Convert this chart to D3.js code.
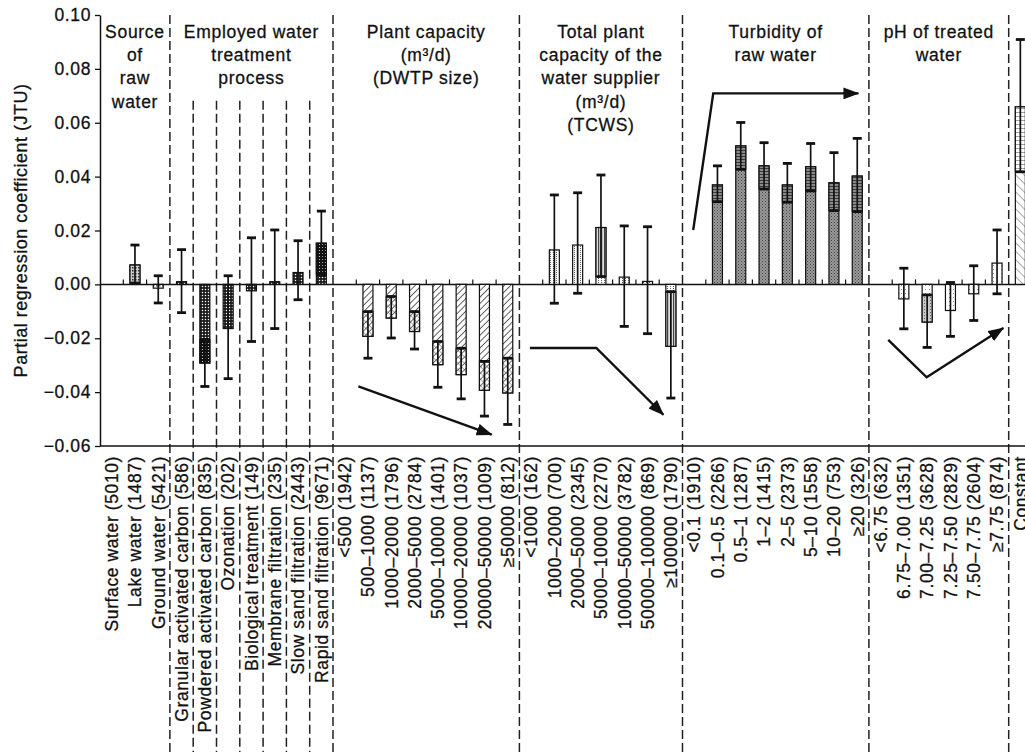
<!DOCTYPE html>
<html><head><meta charset="utf-8">
<script src="https://cdn.jsdelivr.net/npm/d3@7"></script>
<style>
body{margin:0;background:#fff;}
text{font-family:"Liberation Sans",Arial,Helvetica,sans-serif;fill:#111;stroke:#111;stroke-width:0.3px;}
</style></head>
<body>
<script>
// ---------- DATA ----------
const categories = [
  "Surface water (5010)","Lake water (1487)","Ground water (5421)",
  "Granular activated carbon (586)","Powdered activated carbon (835)","Ozonation (202)",
  "Biological treatment (149)","Membrane filtration (235)","Slow sand filtration (2443)","Rapid sand filtration (9671)",
  "<500 (1942)","500–1000 (1137)","1000–2000 (1796)","2000–5000 (2784)","5000–10000 (1401)",
  "10000–20000 (1037)","20000–50000 (1009)","≥50000 (812)",
  "<1000 (162)","1000–2000 (700)","2000–5000 (2345)","5000–10000 (2270)","10000–50000 (3782)",
  "50000–100000 (869)","≥100000 (1790)",
  "<0.1 (1910)","0.1–0.5 (2266)","0.5–1 (1287)","1–2 (1415)","2–5 (2373)","5–10 (1558)","10–20 (753)","≥20 (326)",
  "<6.75 (632)","6.75–7.00 (1351)","7.00–7.25 (3628)","7.25–7.50 (2829)","7.50–7.75 (2604)","≥7.75 (874)",
  "Constant"
];
const sectionTitles = [
  ["Source","of","raw","water"],
  ["Employed water","treatment","process"],
  ["Plant capacity","(m³/d)","(DWTP size)"],
  ["Total plant","capacity of the","water supplier","(m³/d)","(TCWS)"],
  ["Turbidity of","raw water"],
  ["pH of treated","water"],
  []
];
const sectionSizes = [3, 7, 8, 7, 8, 6, 1];
// coefficient (null = reference category)
const coef = [null, 0.0072, -0.0014,
  0.0010, -0.0292, -0.0164, -0.0024, 0.0010, 0.0044, 0.0153,
  null, -0.0193, -0.0125, -0.0175, -0.0298, -0.0335, -0.0393, -0.0403,
  null, 0.0128, 0.0146, 0.0211, 0.0027, 0.0011, -0.0230,
  null, 0.0369, 0.0514, 0.0440, 0.0369, 0.0437, 0.0377, 0.0402,
  null, -0.0054, -0.0140, -0.0097, -0.0035, 0.0079,
  0.0659];
const ciLower = [null, 0.0005, -0.0069,
  -0.0105, -0.0379, -0.0350, -0.0212, -0.0164, -0.0057, 0.0035,
  null, -0.0274, -0.0199, -0.0240, -0.0382, -0.0425, -0.0489, -0.0520,
  null, -0.0070, -0.0033, 0.0029, -0.0156, -0.0183, -0.0422,
  null, 0.0307, 0.0427, 0.0354, 0.0305, 0.0347, 0.0274, 0.0270,
  null, -0.0165, -0.0234, -0.0193, -0.0134, -0.0035,
  0.0418];
const ciUpper = [null, 0.0146, 0.0032,
  0.0129, -0.0205, 0.0032, 0.0173, 0.0202, 0.0162, 0.0272,
  null, -0.0101, -0.0045, -0.0101, -0.0212, -0.0237, -0.0286, -0.0274,
  null, 0.0332, 0.0340, 0.0406, 0.0217, 0.0214, -0.0027,
  null, 0.0440, 0.0601, 0.0526, 0.0449, 0.0523, 0.0489, 0.0542,
  null, 0.0060, -0.0039, 0.0007, 0.0069, 0.0202,
  0.0909];
const yTicks = [0.10, 0.08, 0.06, 0.04, 0.02, 0.00, -0.02, -0.04, -0.06];
// trend arrows: [category position, coefficient] points
const trendArrows = [
  [[11.09, -0.0379], [16.81, -0.0558]],
  [[18.45, -0.0236], [21.3, -0.0236], [24.18, -0.0484]],
  [[25.46, 0.0202], [26.32, 0.0709], [32.55, 0.0709]],
  [[33.83, -0.0206], [35.48, -0.0345], [38.77, -0.0162]]
];

// ---------- LAYOUT ----------
const W = 1025, H = 752;
const mLeft = 100, mTop = 15, mBottom = 446, band = 23.3;
const n = categories.length;
const svg = d3.select("body").append("svg").attr("width", W).attr("height", H);

const xb = d3.scaleBand().domain(d3.range(n)).range([mLeft, mLeft + n * band]).padding(0);
const xi = d3.scaleLinear().domain([0, n]).range([mLeft, mLeft + n * band]);
const y = d3.scaleLinear().domain([-0.06, 0.10]).range([mBottom, mTop]);
const cx = i => xb(i) + xb.bandwidth() / 2;

const secOf = [];
sectionSizes.forEach((s, k) => { for (let j = 0; j < s; j++) secOf.push(k); });
const secStart = [];
sectionSizes.reduce((acc, s) => { secStart.push(acc); return acc + s; }, 0);

// ---------- PATTERNS ----------
const defs = svg.append("defs");
function pattern(id, w, h, bg, rot) {
  const p = defs.append("pattern").attr("id", id).attr("patternUnits", "userSpaceOnUse")
    .attr("width", w).attr("height", h);
  if (rot) p.attr("patternTransform", `rotate(${rot})`);
  p.append("rect").attr("width", w).attr("height", h).attr("fill", bg);
  return p;
}
let p = pattern("p0", 3, 3, "#fff");
p.append("rect").attr("x", 0).attr("y", 0).attr("width", 1.5).attr("height", 1.5).attr("fill", "#555");
p = pattern("p0i", 3, 3, "#ccc");
p.append("rect").attr("width", 1.5).attr("height", 1.5).attr("fill", "#333");
p = pattern("p1", 3, 3, "#1c1c1c");
p.append("circle").attr("cx", 1.5).attr("cy", 1.5).attr("r", 0.75).attr("fill", "#fff");
p = pattern("p1i", 3, 3, "#111");
p.append("circle").attr("cx", 1.5).attr("cy", 1.5).attr("r", 0.6).attr("fill", "#ddd");
p = pattern("p2", 4.5, 4.5, "#fff", 45);
p.append("line").attr("x1", 0).attr("y1", 0).attr("x2", 0).attr("y2", 4.5).attr("stroke", "#222").attr("stroke-width", 1.4);
p = pattern("p2i", 4.5, 4.5, "#fff", 45);
p.append("line").attr("x1", 0).attr("y1", 0).attr("x2", 0).attr("y2", 4.5).attr("stroke", "#222").attr("stroke-width", 1.3);
p.append("line").attr("x1", 0).attr("y1", 0).attr("x2", 4.5).attr("y2", 0).attr("stroke", "#444").attr("stroke-width", 0.9);
p = pattern("p3", 3, 2, "#fff");
p.append("rect").attr("x", 1).attr("y", 0).attr("width", 1).attr("height", 1).attr("fill", "#666");
p = pattern("p3i", 3, 2, "#ddd");
p.append("rect").attr("x", 1).attr("y", 0).attr("width", 1.2).attr("height", 2).attr("fill", "#444");
p = pattern("p4", 3, 3, "#9a9a9a");
p.append("rect").attr("width", 1).attr("height", 1).attr("fill", "#444");
p.append("rect").attr("x", 1.5).attr("y", 1.5).attr("width", 1).attr("height", 1).attr("fill", "#555");
p = pattern("p4i", 3, 3, "#8a8a8a");
p.append("rect").attr("width", 3).attr("height", 1).attr("fill", "#3a3a3a");
p = pattern("p5", 4, 4, "#fff");
p.append("rect").attr("x", 1).attr("y", 1).attr("width", 1).attr("height", 1).attr("fill", "#999");
p = pattern("p5i", 3, 3, "#c8c8c8");
p.append("rect").attr("width", 1).attr("height", 1).attr("fill", "#666");
p = pattern("p6", 6, 6, "#fff", -45);
p.append("line").attr("x1", 0).attr("y1", 0).attr("x2", 0).attr("y2", 6).attr("stroke", "#555").attr("stroke-width", 1);
p = pattern("p6i", 4, 4, "#fff");
p.append("line").attr("x1", 0).attr("y1", 0).attr("x2", 4).attr("y2", 0).attr("stroke", "#444").attr("stroke-width", 1);

defs.append("marker").attr("id", "arr").attr("markerUnits", "userSpaceOnUse")
  .attr("viewBox", "0 0 16 12").attr("refX", 15).attr("refY", 6)
  .attr("markerWidth", 16).attr("markerHeight", 12).attr("orient", "auto")
  .append("path").attr("d", "M0,0 L16,6 L0,12 Z").attr("fill", "#111");

// ---------- DASHED DIVIDERS ----------
const dividers = secStart.slice(1);
svg.append("g").selectAll("line").data(dividers).join("line")
  .attr("x1", d => xi(d)).attr("x2", d => xi(d))
  .attr("y1", mTop).attr("y2", H)
  .attr("stroke", "#222").attr("stroke-width", 1.5).attr("stroke-dasharray", "9,4");
const subDiv = d3.range(secStart[1] + 1, secStart[2]);
svg.append("g").selectAll("line").data(subDiv).join("line")
  .attr("x1", d => xi(d)).attr("x2", d => xi(d))
  .attr("y1", y(0.0682)).attr("y2", H)
  .attr("stroke", "#222").attr("stroke-width", 1.5).attr("stroke-dasharray", "9,4");

// ---------- AXES ----------
const yAxis = d3.axisLeft(y).tickValues(yTicks).tickFormat(d3.format(".2f")).tickSize(5).tickSizeOuter(0).tickPadding(4);
const gy = svg.append("g").attr("transform", `translate(${mLeft},0)`).call(yAxis);
gy.select(".domain").attr("stroke", "#111").attr("stroke-width", 1.5);
gy.selectAll(".tick line").attr("stroke", "#111").attr("stroke-width", 1.3);
gy.selectAll(".tick text").attr("font-size", 17.5).attr("letter-spacing", 0.6)
  .style("font-family", '"Liberation Sans",Arial,sans-serif').attr("fill", "#111");

svg.append("line").attr("x1", mLeft).attr("x2", W).attr("y1", y(-0.06)).attr("y2", y(-0.06))
  .attr("stroke", "#111").attr("stroke-width", 1.5);
svg.append("line").attr("x1", mLeft).attr("x2", W).attr("y1", y(0)).attr("y2", y(0))
  .attr("stroke", "#111").attr("stroke-width", 1.5);
const boundaries = d3.range(1, n).filter(b => !dividers.includes(b) && !subDiv.includes(b));
svg.append("g").selectAll("line").data(boundaries).join("line")
  .attr("x1", d => xi(d)).attr("x2", d => xi(d))
  .attr("y1", y(0)).attr("y2", y(0) - 5)
  .attr("stroke", "#111").attr("stroke-width", 1.2);

svg.append("text").attr("transform", `translate(27,${(mTop + mBottom) / 2})rotate(-90)`)
  .attr("text-anchor", "middle").attr("font-size", 18).attr("letter-spacing", 0.5)
  .text("Partial regression coefficient (JTU)");

// ---------- BARS ----------
const barW = 10;
const idx = d3.range(n).filter(i => coef[i] !== null);
const gb = svg.append("g");
gb.selectAll("rect.bar").data(idx).join("rect").attr("class", "bar")
  .attr("x", i => cx(i) - barW / 2).attr("width", barW)
  .attr("y", i => y(Math.max(0, coef[i])))
  .attr("height", i => Math.abs(y(coef[i]) - y(0)))
  .attr("fill", i => `url(#p${secOf[i]})`)
  .attr("stroke", "#111").attr("stroke-width", 1.2);
const innerIdx = idx.filter(i => coef[i] > 0 ? (ciLower[i] > 0 && ciLower[i] < coef[i]) : (ciUpper[i] < 0 && ciUpper[i] > coef[i]));
gb.selectAll("rect.inner").data(innerIdx).join("rect").attr("class", "inner")
  .attr("x", i => cx(i) - barW / 2).attr("width", barW)
  .attr("y", i => coef[i] > 0 ? y(coef[i]) : y(ciUpper[i]))
  .attr("height", i => coef[i] > 0 ? y(ciLower[i]) - y(coef[i]) : y(coef[i]) - y(ciUpper[i]))
  .attr("fill", i => `url(#p${secOf[i]}i)`)
  .attr("stroke", "#111").attr("stroke-width", 1.2);

const ge = svg.append("g").attr("stroke", "#111");
ge.selectAll("line.v").data(idx).join("line").attr("class", "v")
  .attr("x1", i => cx(i)).attr("x2", i => cx(i))
  .attr("y1", i => y(ciLower[i])).attr("y2", i => y(ciUpper[i]))
  .attr("stroke-width", 1.7);
["lo", "hi"].forEach(k => {
  ge.selectAll("line." + k).data(idx).join("line").attr("class", k)
    .attr("x1", i => cx(i) - 4.5).attr("x2", i => cx(i) + 4.5)
    .attr("y1", i => y(k === "lo" ? ciLower[i] : ciUpper[i]))
    .attr("y2", i => y(k === "lo" ? ciLower[i] : ciUpper[i]))
    .attr("stroke-width", 2.8);
});

// ---------- TREND ARROWS ----------
const line = d3.line().x(d => xi(d[0])).y(d => y(d[1]));
svg.append("g").selectAll("path").data(trendArrows).join("path")
  .attr("d", line).attr("fill", "none").attr("stroke", "#111").attr("stroke-width", 2.4)
  .attr("marker-end", "url(#arr)");

// ---------- SECTION TITLES ----------
const gt = svg.append("g");
sectionTitles.forEach((lines, k) => {
  const c = xi(secStart[k] + sectionSizes[k] / 2);
  lines.forEach((t, j) => {
    gt.append("text").attr("x", c).attr("y", 38 + j * 23.2)
      .attr("text-anchor", "middle").attr("font-size", 17.5).attr("letter-spacing", 0.7)
      .text(t);
  });
});

// ---------- CATEGORY LABELS ----------
svg.append("g").selectAll("text").data(d3.range(n)).join("text")
  .attr("transform", i => `translate(${cx(i)},456)rotate(-90)`)
  .attr("text-anchor", "end").attr("dy", "0.36em")
  .attr("font-size", 17.5).attr("letter-spacing", 0.6)
  .text(i => categories[i]);
</script>
</body></html>
